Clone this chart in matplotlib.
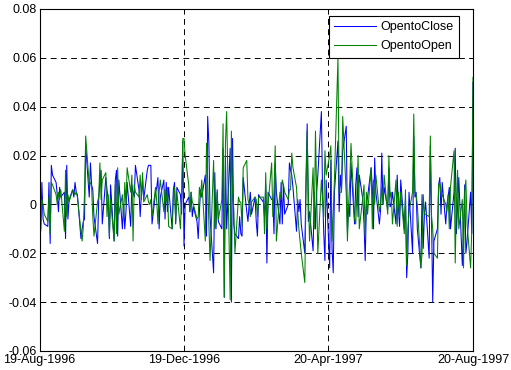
import numpy as np
import pandas as pd
import matplotlib
matplotlib.use("Agg")
import matplotlib.pyplot as plt
import matplotlib.dates as mdates

plt.rcParams["font.family"] = ["Liberation Sans", "DejaVu Sans"]

# daily open-to-close returns, one row per month
open_to_close = [
    0.003, -0.011, 0.009, -0.006, -0.008, -0.009, 0.009, -0.016, 0.016, 0.012, 0.009, 0.004, -0.003, 0.007, 0.003, 0.005, -0.014, 0.016, -0.006, 0.002, 0.006, 0.003, 0.009,
    0.005, 0.004, -0.014, -0.010, -0.007, -0.006, 0.024, 0.003, 0.017, 0.008, 0.006, -0.005, -0.016, 0.002, 0.010, 0.014, -0.008, 0.011, 0.006, 0.002, -0.014, 0.008,
    -0.015, 0.010, 0.014, -0.013, 0.010, -0.010, 0.000, -0.010, -0.003, 0.009, -0.009, 0.008, 0.005, 0.003, 0.016, 0.006, -0.005, 0.004, 0.010, 0.002, 0.014,
    0.016, 0.016, 0.016, -0.008, 0.005, 0.007, 0.011, -0.010, 0.003, 0.010, -0.006, 0.009, -0.003, 0.007, -0.010, 0.006, 0.009, -0.008, 0.007, 0.004, -0.004, 0.026,
    -0.017, 0.000, 0.003, -0.003, 0.005, -0.005, -0.001, -0.007, -0.014, -0.003, 0.006, 0.003, 0.012, -0.013, 0.036, 0.025, -0.005, -0.028, 0.013, -0.010, 0.006, -0.007,
    -0.010, 0.023, -0.038, 0.020, -0.010, 0.023, -0.040, 0.027, -0.008, -0.012, -0.014, -0.005, -0.012, -0.013, 0.011, -0.003, -0.007, 0.000, 0.005, -0.004, 0.003, -0.007,
    -0.013, 0.004, 0.003, 0.001, -0.005, 0.008, -0.024, 0.005, 0.002, 0.002, -0.012, 0.017, 0.005, -0.008, 0.009, -0.008, 0.008, -0.004, 0.000, 0.017,
    0.014, 0.012, 0.007, -0.011, 0.002, -0.003, 0.002, -0.008, -0.020, 0.010, 0.033, -0.007, -0.003, -0.019, 0.005, -0.010, 0.005, 0.012, 0.038, 0.005, -0.012, -0.023, 0.010,
    -0.026, 0.018, -0.018, -0.028, 0.005, 0.026, -0.003, 0.012, 0.006, 0.022, 0.032, -0.011, 0.000, -0.005, 0.017, -0.008, 0.008, 0.015, -0.005, 0.012, 0.002, -0.008,
    -0.023, 0.000, 0.003, 0.015, 0.007, -0.010, 0.019, 0.005, -0.008, -0.002, 0.021, 0.000, 0.007, -0.002, 0.015, -0.001, 0.000, 0.005, -0.008, 0.012, -0.001, -0.009,
    0.010, -0.010, 0.002, -0.030, -0.020, 0.005, -0.020, 0.028, 0.003, 0.005, -0.010, -0.026, 0.004, -0.018, -0.004, 0.001, -0.022, 0.024, -0.005, -0.040, -0.015,
    -0.010, 0.008, 0.011, -0.004, 0.009, -0.008, 0.000, 0.003, 0.007, -0.010, 0.005, 0.023, -0.012, 0.000, 0.011, -0.025, -0.010, 0.008, -0.020, -0.015, 0.005, -0.012, 0.050,
]

# daily open-to-open returns
open_to_open = [
    0.008, -0.010, 0.002, 0.000, -0.004, -0.007, 0.003, -0.012, 0.009, 0.008, 0.004, 0.000, 0.005, 0.002, 0.006, -0.011, 0.014, -0.005, 0.004, 0.001, 0.006, 0.005, 0.004,
    0.005, 0.003, -0.011, -0.015, -0.009, 0.004, 0.028, 0.008, 0.009, 0.007, -0.005, -0.013, 0.001, 0.003, 0.017, 0.002, 0.010, 0.013, -0.005, 0.004, -0.013, 0.002,
    -0.015, 0.008, -0.012, 0.015, -0.004, 0.004, -0.006, 0.009, 0.000, 0.015, 0.005, 0.012, -0.015, 0.008, 0.005, 0.003, 0.012, 0.002, 0.013, 0.001, 0.004,
    0.001, 0.000, 0.002, -0.005, 0.007, 0.001, -0.008, 0.005, 0.010, -0.003, 0.006, 0.001, 0.007, -0.009, -0.010, 0.003, 0.007, -0.007, 0.005, -0.010, 0.004, 0.027,
    0.027, 0.020, 0.008, -0.003, 0.005, 0.001, 0.000, -0.006, -0.005, 0.007, 0.003, 0.010, -0.015, 0.025, 0.010, -0.008, -0.023, 0.018, -0.010, -0.008, 0.005, -0.006,
    0.002, 0.033, -0.038, 0.025, 0.038, -0.039, 0.030, 0.005, -0.002, -0.020, 0.003, 0.001, 0.001, -0.009, 0.015, 0.018, 0.002, 0.000, -0.005, 0.001, 0.003, 0.002,
    -0.005, 0.003, 0.003, 0.003, -0.012, 0.013, -0.010, 0.000, 0.017, -0.005, 0.006, 0.024, -0.015, 0.005, 0.002, 0.010, 0.008, 0.005, 0.002, 0.006,
    0.006, 0.021, 0.015, 0.007, -0.003, -0.010, -0.015, -0.020, -0.032, 0.005, 0.030, 0.005, -0.015, 0.015, -0.010, 0.030, 0.005, -0.020, 0.010, 0.002, -0.005, 0.022, 0.012,
    0.020, 0.024, -0.015, -0.004, 0.010, 0.060, 0.005, 0.005, 0.005, 0.036, 0.004, -0.015, 0.000, 0.010, 0.025, -0.006, -0.008, 0.005, 0.020, -0.010, 0.003, 0.008,
    -0.013, 0.005, -0.004, 0.015, -0.010, 0.010, 0.000, 0.012, -0.003, 0.000, 0.007, 0.000, 0.012, -0.004, 0.020, 0.003, 0.005, -0.008, 0.010, -0.009, 0.005, -0.005,
    0.005, -0.012, 0.006, -0.025, -0.010, -0.003, 0.005, 0.037, 0.005, 0.004, 0.000, -0.026, -0.020, 0.004, -0.004, -0.004, -0.005, 0.028, -0.005, -0.010, -0.020,
    -0.022, 0.008, 0.009, 0.005, 0.004, 0.000, -0.003, 0.004, -0.010, 0.007, 0.022, -0.024, 0.000, 0.014, -0.010, 0.002, -0.026, 0.005, 0.010, -0.008, -0.026, -0.010, 0.052,
]

tick_dates = ["1996-08-19", "1996-12-19", "1997-04-20", "1997-08-20"]
tick_labels = ["19-Aug-1996", "19-Dec-1996", "20-Apr-1997", "20-Aug-1997"]
y_ticks = [-0.06, -0.04, -0.02, 0, 0.02, 0.04, 0.06, 0.08]
y_labels = ["-0.06", "-0.04", "-0.02", "0", "0.02", "0.04", "0.06", "0.08"]

d_close = pd.bdate_range("1996-08-19", periods=len(open_to_close))
d_open = pd.bdate_range("1996-08-19", periods=len(open_to_open))

fig = plt.figure(figsize=(5.11, 3.70), dpi=100)
ax = fig.add_axes([0.0773, 0.0514, 0.8483, 0.9243])

ax.plot(d_close, open_to_close, color="#0000ff", lw=0.75, label="OpentoClose")
ax.plot(d_open, open_to_open, color="#008000", lw=0.75, label="OpentoOpen")

xt = mdates.date2num(pd.to_datetime(tick_dates))
ax.set_xlim(xt[0], xt[-1])
ax.set_ylim(-0.06, 0.08)
ax.set_xticks(xt)
ax.set_xticklabels(tick_labels, fontsize=9)
ax.set_yticks(y_ticks)
ax.set_yticklabels(y_labels, fontsize=9)

ax.grid(True, color="black", linestyle=(0, (6, 4.5)), linewidth=0.7)
ax.tick_params(direction="in", length=3, width=0.7, top=True, right=True, pad=2)
for s in ax.spines.values():
    s.set_linewidth(0.8)

leg = ax.legend(loc="upper right", fontsize=9, fancybox=False, framealpha=1,
                edgecolor="black", borderaxespad=0, bbox_to_anchor=(0.9685, 0.98),
                handlelength=3.3, handletextpad=0.4, borderpad=0.45,
                labelspacing=0.55)
leg.get_frame().set_linewidth(0.8)

fig.savefig("out.png", dpi=100)
